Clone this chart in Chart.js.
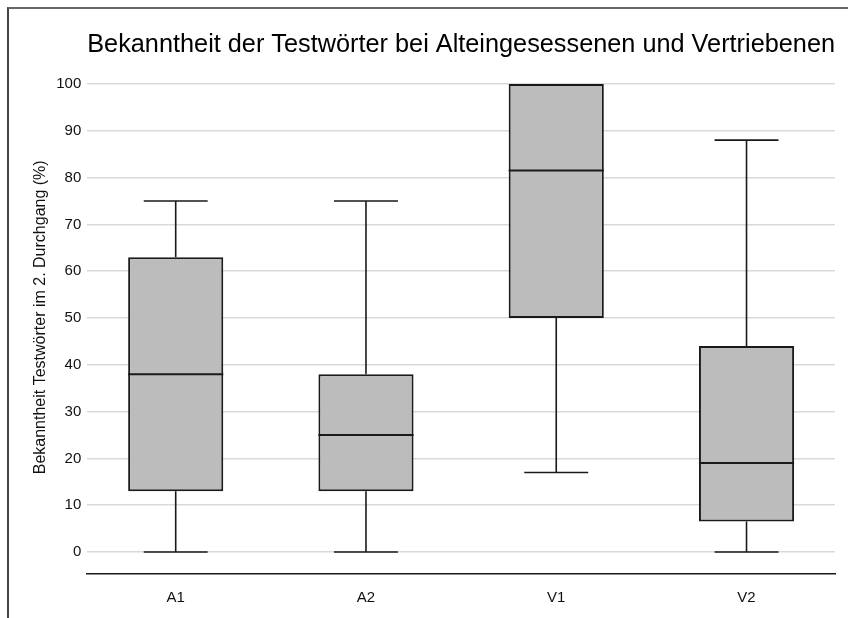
<!DOCTYPE html>
<html>
<head>
<meta charset="utf-8">
<script src="https://cdn.jsdelivr.net/npm/chart.js@4"></script>
<style>
  html, body { margin: 0; padding: 0; background: #fff; }
  #wrap { position: relative; width: 848px; height: 618px; }
  #frame { position: absolute; left: 7px; top: 7px; right: 0; bottom: 0;
           border-left: 2px solid #444; border-top: 2px solid #666; pointer-events: none; }
</style>
</head>
<body>
<div id="wrap">
  <canvas id="boxChart" width="848" height="618"></canvas>
  <div id="frame"></div>
</div>
<script>
// Werte
const groups = ['A1', 'A2', 'V1', 'V2'];
const positions = [0, 1, 2, 3];
const minVals = [0, 0, 17, 0];
const q1Vals = [13, 13, 50, 6.5];
const medianVals = [38, 25, 81.5, 19];
const q3Vals = [63, 38, 100, 44];
const maxVals = [75, 75, 100, 88];
const yTicks = [0, 10, 20, 30, 40, 50, 60, 70, 80, 90, 100];

const FONT = 'Liberation Sans, Arial, sans-serif';

// Whisker und Median über die Skalen zeichnen
const boxParts = {
    id: 'boxParts',
    beforeDatasetsDraw(chart) {
        const ctx = chart.ctx;
        const x = chart.scales.x, y = chart.scales.y;
        const capW = (x.getPixelForValue(1) - x.getPixelForValue(0)) * 0.336;
        ctx.save();
        ctx.strokeStyle = '#1a1a1a';
        ctx.lineWidth = 1.6;
        positions.forEach((p, i) => {
            const cx = x.getPixelForValue(p);
            const ends = [[q1Vals[i], minVals[i]], [q3Vals[i], maxVals[i]]];
            ends.forEach(([from, to]) => {
                if (from === to) return;
                const y0 = y.getPixelForValue(from), y1 = y.getPixelForValue(to);
                ctx.beginPath();
                ctx.moveTo(cx, y0); ctx.lineTo(cx, y1);
                ctx.moveTo(cx - capW / 2, y1); ctx.lineTo(cx + capW / 2, y1);
                ctx.stroke();
            });
        });
        ctx.restore();
    },
    afterDatasetsDraw(chart) {
        const ctx = chart.ctx;
        const meta = chart.getDatasetMeta(0);
        const y = chart.scales.y;
        ctx.save();
        ctx.strokeStyle = '#1a1a1a';
        ctx.lineWidth = 2;
        meta.data.forEach((bar, i) => {
            const half = bar.width / 2;
            const ym = y.getPixelForValue(medianVals[i]);
            ctx.beginPath();
            ctx.moveTo(bar.x - half, ym); ctx.lineTo(bar.x + half, ym);
            ctx.stroke();
        });
        ctx.restore();
    }
};

new Chart(document.getElementById('boxChart'), {
    type: 'bar',
    data: {
        labels: positions,
        datasets: [{
            data: positions.map((p, i) => [q1Vals[i], q3Vals[i]]),
            backgroundColor: '#bcbcbc',
            borderColor: '#1a1a1a',
            borderWidth: 2,
            borderSkipped: false,
            barPercentage: 0.5,
            categoryPercentage: 1
        }]
    },
    options: {
        responsive: false,
        animation: false,
        layout: { padding: { top: 27, left: 30, right: 13, bottom: -4 } },
        plugins: {
            legend: { display: false },
            tooltip: { enabled: false },
            title: {
                display: true,
                fullSize: false,
                text: 'Bekanntheit der Testwörter bei Alteingesessenen und Vertriebenen',
                color: '#000',
                font: { family: FONT, size: 25.5, weight: 'normal' },
                padding: { top: 3, bottom: 0 }
            }
        },
        scales: {
            x: {
                type: 'linear',
                offset: false,
                min: -0.465,
                max: 3.465,
                afterBuildTicks: (scale) => { scale.ticks = positions.map(v => ({ value: v })); },
                grid: { display: false, drawTicks: false },
                border: { display: true, color: '#1a1a1a', width: 1.5 },
                ticks: {
                    color: '#111',
                    font: { family: FONT, size: 15 },
                    padding: 15,
                    callback: (v) => groups[v]
                }
            },
            y: {
                min: -4.7,
                max: 105,
                afterBuildTicks: (scale) => { scale.ticks = yTicks.map(v => ({ value: v })); },
                grid: { color: '#d9d9d9', lineWidth: 1.5, drawTicks: false },
                border: { display: false },
                ticks: { color: '#111', font: { family: FONT, size: 15 }, padding: 6 },
                title: {
                    display: true,
                    text: 'Bekanntheit Testwörter im 2. Durchgang (%)',
                    color: '#111',
                    font: { family: FONT, size: 16 },
                    padding: { top: 1, bottom: 0 }
                }
            }
        }
    },
    plugins: [boxParts]
});
</script>
</body>
</html>
